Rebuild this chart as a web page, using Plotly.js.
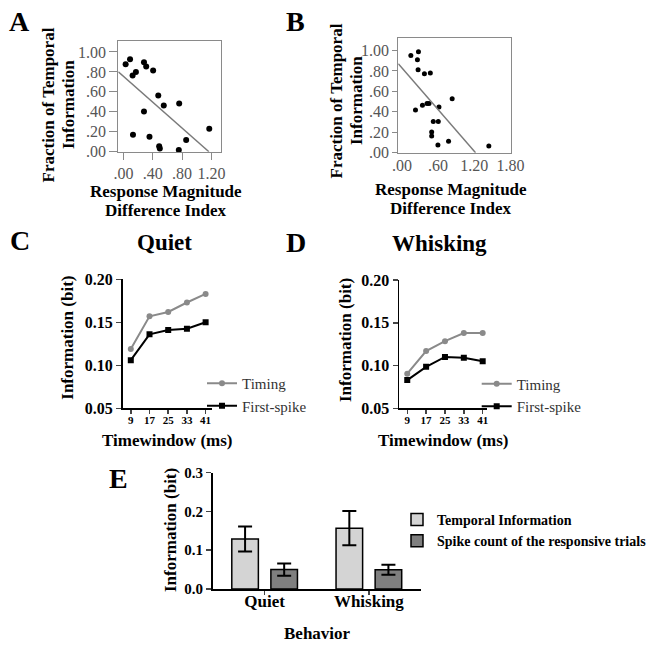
<!DOCTYPE html>
<html><head><meta charset="utf-8">
<script src="https://cdn.plot.ly/plotly-3.0.1.min.js"></script>
<style>html,body{margin:0;padding:0;background:#fff}</style>
</head><body><div id="chart" style="width:658px;height:646px"></div>
<script>
// ---- Panel A: quiet ----
const aMagnitudeIndex = [0.03,0.09,0.125,0.17,0.28,0.31,0.405,0.475,0.55,0.76,0.28,0.13,0.355,0.487,0.496,0.755,0.855,1.17];
const aTemporalFraction = [0.878,0.926,0.765,0.80,0.896,0.854,0.814,0.563,0.462,0.484,0.403,0.17,0.15,0.055,0.032,0.018,0.117,0.23];
const aFit = [0.755, -0.648];          // intercept, slope
const aXTicks = [0, 0.4, 0.8, 1.2];
const aXTickText = ['.00', '.40', '.80', '1.20'];
// ---- Panel B: whisking ----
const bMagnitudeIndex = [0.148,0.274,0.257,0.268,0.373,0.471,0.833,0.225,0.34,0.416,0.449,0.614,0.52,0.603,0.493,0.493,0.597,0.773,1.441];
const bTemporalFraction = [0.951,0.987,0.909,0.811,0.772,0.779,0.528,0.417,0.463,0.482,0.482,0.446,0.306,0.306,0.202,0.163,0.075,0.111,0.065];
const bFit = [0.83, -0.68];
const bXTicks = [0, 0.6, 1.2, 1.8];
const bXTickText = ['.00', '.60', '1.20', '1.80'];
const fracTicks = [0, 0.2, 0.4, 0.6, 0.8, 1.0];
const fracTickText = ['.00', '.20', '.40', '.60', '.80', '1.00'];
// ---- Panels C / D ----
const timeWindows = [9, 17, 25, 33, 41];
const quietTiming = [0.119, 0.157, 0.162, 0.173, 0.183];
const quietFirstSpike = [0.106, 0.136, 0.141, 0.1425, 0.150];
const whiskTiming = [0.0905, 0.117, 0.1285, 0.138, 0.138];
const whiskFirstSpike = [0.083, 0.0985, 0.110, 0.109, 0.105];
// ---- Panel E ----
const behaviors = ['Quiet', 'Whisking'];
const temporalInfo = [0.129, 0.157];
const temporalErr = [0.032, 0.044];
const spikeCountInfo = [0.050, 0.0495];
const spikeCountErr = [0.016, 0.013];

const W = 658, H = 646;
const SERIF = "Liberation Serif";
const px = v => v / W;
const py = v => 1 - v / H;
const dx = (a, b) => [px(a), px(b)];
const dy = (top, bottom) => [py(bottom), py(top)];

function fitLine(fit, xmin) {
  const xEnd = -fit[0] / fit[1];
  return {x: [xmin, xEnd], y: [fit[0] + fit[1] * xmin, 0]};
}
const aRange = [-0.07, 1.33], bRange = [-0.06, 1.8];
const aLine = fitLine(aFit, aRange[0]);
const bLine = fitLine(bFit, bRange[0]);

const gray = '#8a8a8a';
const traces = [
  {type:'scatter', mode:'markers', x:aMagnitudeIndex, y:aTemporalFraction, xaxis:'x', yaxis:'y',
   marker:{color:'#000', size:6}, showlegend:false, cliponaxis:false},
  {type:'scatter', mode:'lines', x:aLine.x, y:aLine.y, xaxis:'x', yaxis:'y',
   line:{color:'#7a7a7a', width:1.5}, showlegend:false},
  {type:'scatter', mode:'markers', x:bMagnitudeIndex, y:bTemporalFraction, xaxis:'x2', yaxis:'y2',
   marker:{color:'#000', size:5}, showlegend:false, cliponaxis:false},
  {type:'scatter', mode:'lines', x:bLine.x, y:bLine.y, xaxis:'x2', yaxis:'y2',
   line:{color:'#7a7a7a', width:1.5}, showlegend:false},
  {type:'scatter', mode:'lines+markers', name:'Timing', x:timeWindows, y:quietTiming, xaxis:'x3', yaxis:'y3',
   line:{color:gray, width:2}, marker:{color:gray, size:6, symbol:'circle'}, legend:'legend'},
  {type:'scatter', mode:'lines+markers', name:'First-spike', x:timeWindows, y:quietFirstSpike, xaxis:'x3', yaxis:'y3',
   line:{color:'#000', width:2}, marker:{color:'#000', size:6, symbol:'square'}, legend:'legend'},
  {type:'scatter', mode:'lines+markers', name:'Timing', x:timeWindows, y:whiskTiming, xaxis:'x4', yaxis:'y4',
   line:{color:gray, width:2}, marker:{color:gray, size:6, symbol:'circle'}, legend:'legend2'},
  {type:'scatter', mode:'lines+markers', name:'First-spike', x:timeWindows, y:whiskFirstSpike, xaxis:'x4', yaxis:'y4',
   line:{color:'#000', width:2}, marker:{color:'#000', size:6, symbol:'square'}, legend:'legend2'},
  {type:'bar', name:'Temporal Information', x:behaviors, y:temporalInfo, xaxis:'x5', yaxis:'y5',
   marker:{color:'#d4d4d4', line:{color:'#000', width:1.5}},
   error_y:{type:'data', array:temporalErr, visible:true, color:'#000', thickness:2, width:7}, legend:'legend3'},
  {type:'bar', name:'Spike count of the responsive trials', x:behaviors, y:spikeCountInfo, xaxis:'x5', yaxis:'y5',
   marker:{color:'#7f7f7f', line:{color:'#000', width:1.5}},
   error_y:{type:'data', array:spikeCountErr, visible:true, color:'#000', thickness:2, width:7}, legend:'legend3'}
];

const spssTick = {family:SERIF, size:16, color:'#555'};
const boldTick = s => ({family:SERIF, size:s, color:'#000', weight:'bold'});
const common = {showgrid:false, zeroline:false, fixedrange:true};

const layout = {
  width:W, height:H, margin:{l:0,r:0,t:0,b:0},
  paper_bgcolor:'#fff', plot_bgcolor:'rgba(0,0,0,0)',
  font:{family:SERIF, color:'#000'},
  barmode:'group', bargap:0.25, bargroupgap:0.32,
  xaxis:Object.assign({}, common, {domain:dx(118.3,221), range:aRange, anchor:'y',
    showline:true, mirror:true, linecolor:gray, linewidth:1, ticks:'outside', ticklen:7, tickcolor:gray,
    tickvals:aXTicks, ticktext:aXTickText, tickfont:spssTick}),
  yaxis:Object.assign({}, common, {domain:dy(41,151.7), range:[0,1.11], anchor:'x',
    showline:true, mirror:true, linecolor:gray, linewidth:1, ticks:'outside', ticklen:8, tickcolor:gray,
    tickvals:fracTicks, ticktext:fracTickText, tickfont:spssTick}),
  xaxis2:Object.assign({}, common, {domain:dx(398.3,510.5), range:bRange, anchor:'y2',
    showline:true, mirror:true, linecolor:gray, linewidth:1, ticks:'', ticklabelstandoff:-2,
    tickvals:bXTicks, ticktext:bXTickText, tickfont:spssTick}),
  yaxis2:Object.assign({}, common, {domain:dy(37.7,152.7), range:[0,1.125], anchor:'x2',
    showline:true, mirror:true, linecolor:gray, linewidth:1, ticks:'outside', ticklen:5, tickcolor:gray,
    tickvals:fracTicks, ticktext:fracTickText, tickfont:spssTick}),
  xaxis3:Object.assign({}, common, {domain:dx(122.5,211.7), range:[5.45,43.6], anchor:'y3',
    showline:true, linecolor:'#000', linewidth:1.5, ticks:'outside', ticklen:4, tickwidth:1.5,
    ticklabelstandoff:-3, tickvals:timeWindows, tickfont:boldTick(11)}),
  yaxis3:Object.assign({}, common, {domain:dy(279.3,408.3), range:[0.05,0.20], anchor:'x3',
    showline:true, linecolor:'#000', linewidth:1.5, ticks:'outside', ticklen:5, tickwidth:1.5,
    dtick:0.05, tick0:0.05, tickformat:'.2f', tickfont:boldTick(16)}),
  xaxis4:Object.assign({}, common, {domain:dx(399,486.7), range:[5.5,42.7], anchor:'y4',
    showline:true, linecolor:'#000', linewidth:1.5, ticks:'outside', ticklen:4, tickwidth:1.5,
    ticklabelstandoff:-3, tickvals:timeWindows, tickfont:boldTick(11)}),
  yaxis4:Object.assign({}, common, {domain:dy(280,408.3), range:[0.05,0.20], anchor:'x4',
    showline:true, linecolor:'#000', linewidth:1.5, ticks:'outside', ticklen:5, tickwidth:1.5,
    dtick:0.05, tick0:0.05, tickformat:'.2f', tickfont:boldTick(16)}),
  xaxis5:Object.assign({}, common, {domain:dx(212.5,421), range:[-0.5,1.5], anchor:'y5', type:'category',
    showline:true, linecolor:'#000', linewidth:1.5, ticks:'outside', ticklen:4, tickwidth:1.5,
    ticklabelstandoff:-8, tickfont:boldTick(17)}),
  yaxis5:Object.assign({}, common, {domain:dy(472.7,589), range:[0,0.3], anchor:'x5',
    showline:true, linecolor:'#000', linewidth:1.5, ticks:'outside', ticklen:5, tickwidth:1.5,
    dtick:0.1, tickformat:'.1f', tickfont:boldTick(15)}),
  legend:{x:px(202), y:py(394.5), xanchor:'left', yanchor:'middle', bgcolor:'rgba(0,0,0,0)',
    font:{family:SERIF, size:15, color:'#333'}},
  legend2:{x:px(476.7), y:py(395), xanchor:'left', yanchor:'middle', bgcolor:'rgba(0,0,0,0)',
    font:{family:SERIF, size:15, color:'#333'}},
  legend3:{x:px(397), y:py(530.5), xanchor:'left', yanchor:'middle', bgcolor:'rgba(0,0,0,0)',
    font:{family:SERIF, size:14, color:'#000', weight:'bold'}},
  annotations:[]
};

function ann(text, x, y, size, opts) {
  layout.annotations.push(Object.assign({text:text, x:px(x), y:py(y), xref:'paper', yref:'paper',
    xanchor:'center', yanchor:'middle', showarrow:false,
    font:{family:SERIF, size:size, color:'#000', weight:'bold'}}, opts || {}));
}
// panel letters
ann('A', 19.5, 21.5, 28); ann('B', 295, 21.5, 28);
ann('C', 19.5, 241, 28); ann('D', 296, 242, 28); ann('E', 118, 478, 28);
// A / B axis titles
ann('Fraction of Temporal', 47.5, 105, 17, {textangle:-90});
ann('Information', 68, 105, 17, {textangle:-90});
ann('Response Magnitude', 166, 191.7, 17); ann('Difference Index', 166, 210, 17);
ann('Fraction of Temporal', 335.5, 101, 17, {textangle:-90});
ann('Information', 356, 101, 17, {textangle:-90});
ann('Response Magnitude', 450.5, 189.3, 17); ann('Difference Index', 450.5, 208.3, 17);
// C / D
ann('Quiet', 164.5, 242, 23); ann('Whisking', 439.5, 243, 23);
ann('Information (bit)', 66.7, 338, 17, {textangle:-90});
ann('Information (bit)', 345, 340, 17, {textangle:-90});
ann('Timewindow (ms)', 167, 440, 17); ann('Timewindow (ms)', 443, 440, 17);
// E
ann('Information (bit)', 170, 530, 17, {textangle:-90});
ann('Behavior', 317, 633, 17);

Plotly.newPlot('chart', traces, layout, {staticPlot:true, displayModeBar:false});
</script></body></html>
